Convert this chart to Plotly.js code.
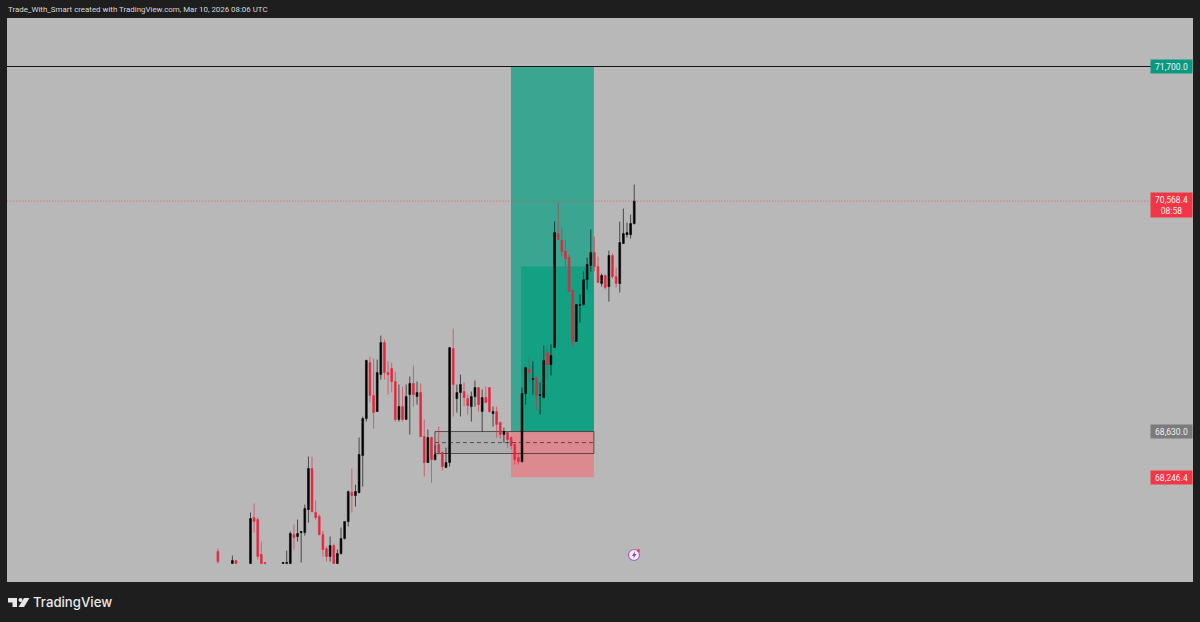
<!DOCTYPE html>
<html><head><meta charset="utf-8">
<script src="https://cdn.plot.ly/plotly-3.0.1.min.js"></script>
<style>html,body{margin:0;padding:0;background:#1e1e1e;overflow:hidden}#c{width:1200px;height:622px}</style>
</head><body><div id="c"></div>
<script>
const bars=[0,4,5,9,10,11,12,13,18,19,20,21,22,23,24,25,26,27,28,29,30,31,32,33,34,35,36,37,38,39,40,41,42,43,44,45,46,47,48,49,50,51,52,53,54,55,56,57,58,59,60,61,62,63,64,65,66,67,68,69,70,71,72,73,74,75,76,77,78,79,80,81,82,83,84,85,86,87,88,89,90,91,92,93,94,95,96,97,98,99,100,101,102,103,104,105,106,107,108,109,110,111,112,113,114,115];
const open=[67621,67520,67545,67520,67907,67890,67596,67528,67520,67520,67520,67764,67747,67780,67780,67974,68319,67949,67915,67764,67646,67579,67671,67520,67604,67730,67873,68117,68092,68117,68428,68739,69210,68933,68798,69109,69378,69126,69160,69050,68731,68840,68731,68941,69034,68924,68958,68588,68369,68580,68394,68521,68453,68327,68369,69328,68907,68958,68966,68907,68840,68924,69000,68798,68916,69000,68781,68798,68706,68605,68621,68580,68521,68411,68377,68950,69151,69067,69084,68933,68916,69294,69193,69336,70295,70236,70144,70093,69816,69387,69690,69698,69908,70026,70135,70017,69875,69942,69849,70110,69933,69875,70211,70286,70286,70379];
const high=[67646,67587,67545,67949,68024,67907,67705,67528,67528,67629,67789,67848,67890,67789,68016,68419,68419,68050,67932,67797,67663,67747,67688,67638,67823,67873,68134,68319,68184,68580,68756,69235,69261,69244,69235,69437,69404,69219,69210,69134,69025,69008,69025,69092,69185,69050,69034,68731,68647,68588,68521,68672,68462,68495,69336,69496,69025,69109,69042,68941,68966,69059,69000,68983,69008,69000,68840,68840,68714,68664,68630,68588,68537,68453,69000,69177,69261,69219,69092,69042,69353,69353,69362,70396,70556,70345,70245,70118,69824,69698,69782,69975,70093,70329,70270,70102,69959,69950,70152,70127,70009,70396,70505,70388,70455,70707];
const low=[67520,67520,67520,67520,67780,67553,67520,67520,67520,67520,67520,67638,67705,67528,67755,67864,67949,67890,67755,67579,67537,67537,67520,67520,67596,67722,67831,67949,67999,68109,68167,68714,68874,68655,68798,69067,69067,68941,68958,68714,68714,68714,68731,68605,68840,68857,68588,68251,68369,68201,68386,68436,68302,68327,68336,68756,68790,68756,68840,68773,68714,68840,68798,68630,68874,68790,68672,68580,68571,68537,68495,68479,68352,68352,68369,68857,69042,68941,68815,68773,68907,69076,69101,69336,70245,70102,70009,69807,69345,69387,69547,69690,69824,69975,69975,69883,69849,69824,69723,69917,69841,69799,70211,70261,70253,70371];
const close=[67537,67545,67520,67898,67873,67579,67520,67520,67528,67528,67772,67738,67772,67789,67982,68319,67957,67907,67764,67638,67579,67671,67520,67604,67730,67873,68125,68092,68125,68436,68739,69227,68933,68790,69126,69378,69126,69109,69050,68731,68840,68731,68924,69034,68941,68958,68588,68369,68580,68394,68436,68453,68336,68369,69336,69025,68958,69025,68916,68849,68924,69000,68857,68916,68874,68798,68798,68689,68605,68630,68563,68512,68394,68377,68950,69168,69126,69076,68933,68941,69227,69193,69269,70303,70245,70144,70085,69807,69387,69698,69698,69908,70034,70135,70017,69883,69942,69841,70110,69933,69875,70219,70295,70303,70379,70568.4];
const target=71700, lastPrice=70568.4, entry=68630, stop=68246.4;
const midZone=68537, zoneLow=68445, innerTop=70018;
const posX=[80.95,103.85], innerX=83.75, boxX=59.95;
const labels=["71,700.0","70,568.4<br>08:58","68,630.0","68,246.4"];
const W=1200,H=622,L=7,R=1193,T=18,B=582;
const px=x=>(x-L)/(R-L), py=y=>(B-y)/(B-T);
const poly=(pts)=>'M'+pts.map(p=>px(p[0])+','+py(p[1])).join('L')+'Z';
const circ=(cx,cy,r,fill,line,lw)=>({type:'circle',xref:'paper',yref:'paper',x0:px(cx-r),x1:px(cx+r),y0:py(cy+r),y1:py(cy-r),fillcolor:fill,line:{color:line,width:lw}});
const rect=(x0,x1,y0,y1,fill)=>({type:'rect',xref:'x',yref:'y',x0,x1,y0,y1,fillcolor:fill,line:{width:0},layer:'below'});
const hl=(y,color,w,dash,x0,x1,xref)=>({type:'line',xref:xref||'paper',yref:'y',x0:x0===undefined?0:x0,x1:x1===undefined?1:x1,y0:y,y1:y,line:{color,width:w,dash:dash||'solid'},layer:'above'});
const shapes=[
 rect(posX[0],posX[1],entry,target,'#3aa590'),
 rect(innerX,posX[1],entry,innerTop,'#14a083'),
 rect(posX[0],posX[1],stop,entry,'#dc8a90'),
 rect(boxX,posX[0],zoneLow,entry,'#aeaeae'),
 {type:'rect',xref:'x',yref:'y',x0:boxX,x1:posX[1],y0:zoneLow,y1:entry,fillcolor:'rgba(0,0,0,0)',line:{width:0.8,color:'rgba(25,25,25,0.8)'},layer:'below'},
 hl(midZone,'rgba(35,25,25,0.8)',0.8,'4px,3px',boxX,posX[1],'x'),
 hl(target,'#141414',1,'solid',0,px(1151)),
 hl(lastPrice,'rgba(242,54,69,0.6)',0.8,'1.5px,1.5px',0,px(1151)),
 {type:'path',xref:'paper',yref:'paper',path:poly([[8,598],[17,598],[17,607],[12.5,607],[12.5,602.5],[8,602.5]]),fillcolor:'#e8e8e8',line:{width:0}},
 circ(20.5,600,2,'#e8e8e8','#e8e8e8',0),
 {type:'path',xref:'paper',yref:'paper',path:poly([[24,598],[29.5,598],[24,607],[18.5,607]]),fillcolor:'#e8e8e8',line:{width:0}},
 circ(634,555,5.5,'#f3eef6','#a860cc',1.2),
 {type:'path',xref:'paper',yref:'paper',path:poly([[635,551],[632,556],[634,556],[633,559],[636.5,554],[634.5,554]]),fillcolor:'#8a3fb5',line:{width:0}},
 circ(638.5,550.5,1.6,'#e8455a','#e8455a',0)
];
const tag=(text,y,bg,yshift)=>({xref:'paper',yref:'y',x:px(1171),y,text,showarrow:false,xanchor:'center',yanchor:'middle',font:{family:'Roboto, sans-serif',size:8.5,color:'#f2f2f2'},bgcolor:bg,width:38,borderpad:1.5,yshift:yshift||0,align:'center'});
const annotations=[
 tag(labels[0],target,'#089981'),
 tag(labels[1],lastPrice,'#f23645',-4),
 tag(labels[2],entry,'#7b7b7b'),
 tag(labels[3],stop,'#f23645'),
 {xref:'paper',yref:'paper',x:px(6),y:py(9),xanchor:'left',yanchor:'middle',showarrow:false,text:'Trade_With_Smart created with TradingView.com, Mar 10, 2026 08:06 UTC',font:{family:'Roboto, sans-serif',size:7.9,color:'#d8d8d8'}},
 {xref:'paper',yref:'paper',x:px(30.5),y:py(602),xanchor:'left',yanchor:'middle',showarrow:false,text:'TradingView',font:{family:'Inter, sans-serif',size:13.2,color:'#e8e8e8',weight:500}}
];
const trace={type:'candlestick',x:bars,open,high,low,close,whiskerwidth:0,hoverinfo:'skip',
 increasing:{line:{color:'rgba(0,0,0,0.78)',width:0.8},fillcolor:'#000000'},
 decreasing:{line:{color:'rgba(232,36,60,0.78)',width:0.8},fillcolor:'#e8243c'}};
Plotly.newPlot('c',[trace],{
 width:W,height:H,showlegend:false,paper_bgcolor:'#1e1e1e',plot_bgcolor:'#b8b8b8',
 margin:{l:L,r:W-R,t:T,b:H-B,pad:0},
 xaxis:{type:'linear',range:[-58.26,269.35],visible:false,rangeslider:{visible:false},fixedrange:true},
 yaxis:{range:[67364.6,72107.9],visible:false,fixedrange:true},
 shapes,annotations
},{displayModeBar:false,staticPlot:true});
</script></body></html>
